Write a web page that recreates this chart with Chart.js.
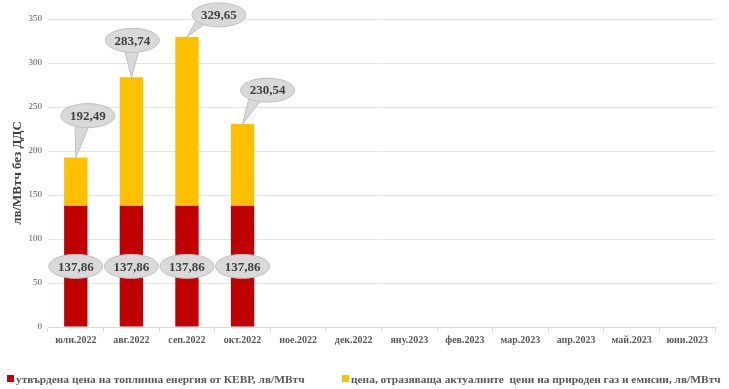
<!DOCTYPE html>
<html>
<head>
<meta charset="utf-8">
<script src="https://cdn.jsdelivr.net/npm/chart.js@4/dist/chart.umd.min.js"></script>
<style>
  html, body { margin: 0; padding: 0; background: #fff; }
  #wrap { width: 729px; height: 389px; }
</style>
</head>
<body>
<div id="wrap"><canvas id="chartCanvas" width="729" height="389"></canvas></div>
<script>
// Months on the x axis
const months = ["юли.2022", "авг.2022", "сеп.2022", "окт.2022", "ное.2022", "дек.2022",
    "яну.2023", "фев.2023", "мар.2023", "апр.2023", "май.2023", "юни.2023"];

// Approved heat price (red, bottom part)
const approvedPrice = [137.86, 137.86, 137.86, 137.86, null, null, null, null, null, null, null, null];
// Extra from actual gas and emission prices (yellow, top part)
const gasComponent = [54.63, 145.88, 191.79, 92.68, null, null, null, null, null, null, null, null];
// Totals shown in the callouts
const totalLabels = ["192,49", "283,74", "329,65", "230,54"];
const approvedLabels = ["137,86", "137,86", "137,86", "137,86"];

const seriesNames = [
    "утвърдена цена на топлинна енергия от КЕВР, лв/МВтч",
    "цена, отразяваща актуалните  цени на природен газ и емисии, лв/МВтч"
];

const FONT = "'Liberation Serif', 'Times New Roman', serif";

// callout offsets from the bar top (dx, dy) - the balloons sit up and to the right
const calloutOffset = [[12, -42], [1, -37], [32, -22], [25, -34]];
// legend item x positions
const legendX = [7, 342];

function ellipse(ctx, cx, cy, rx, ry) {
    ctx.beginPath();
    ctx.ellipse(cx, cy, rx, ry, 0, 0, Math.PI * 2);
    ctx.closePath();
}

// Draws the grey balloon labels
const balloonPlugin = {
    id: "balloons",
    afterDatasetsDraw(chart) {
        const ctx = chart.ctx;
        const redMeta = chart.getDatasetMeta(0);
        const yelMeta = chart.getDatasetMeta(1);
        const yScale = chart.scales.y;
        ctx.save();
        ctx.font = "bold 13px " + FONT;
        ctx.textAlign = "center";
        ctx.textBaseline = "middle";

        approvedLabels.forEach((txt, i) => {
            const bar = redMeta.data[i];
            const cy = yScale.getPixelForValue(approvedPrice[i] / 2);
            ellipse(ctx, bar.x, cy, 27, 12);
            ctx.fillStyle = "#d9d9d9";
            ctx.fill();
            ctx.strokeStyle = "#bfbfbf";
            ctx.lineWidth = 1;
            ctx.stroke();
            ctx.fillStyle = "#404040";
            ctx.fillText(txt, bar.x, cy + 1);
        });

        totalLabels.forEach((txt, i) => {
            const bar = yelMeta.data[i];
            const tx = bar.x;
            const ty = bar.y;
            const cx = tx + calloutOffset[i][0];
            const cy = ty + calloutOffset[i][1];
            // pointer
            const ang = Math.atan2(ty - cy, tx - cx);
            const spread = 0.35;
            ctx.beginPath();
            ctx.moveTo(cx + 27 * Math.cos(ang - spread) * 0.8, cy + 12 * Math.sin(ang - spread) * 0.8);
            ctx.lineTo(tx, ty);
            ctx.lineTo(cx + 27 * Math.cos(ang + spread) * 0.8, cy + 12 * Math.sin(ang + spread) * 0.8);
            ctx.closePath();
            ctx.fillStyle = "#d9d9d9";
            ctx.fill();
            ctx.strokeStyle = "#bfbfbf";
            ctx.stroke();
            ellipse(ctx, cx, cy, 27, 12);
            ctx.fill();
            ctx.stroke();
            // cover the seam between pointer and balloon
            ellipse(ctx, cx, cy, 26, 11);
            ctx.fill();
            ctx.fillStyle = "#404040";
            ctx.fillText(txt, cx, cy + 1);
        });
        ctx.restore();
    }
};

// Built-in legend wraps to two lines, so draw it by hand on one line
const bottomLegend = {
    id: "bottomLegend",
    afterDraw(chart) {
        const ctx = chart.ctx;
        const y = 379;
        ctx.save();
        ctx.font = "bold 11.4px " + FONT;
        ctx.textBaseline = "middle";
        ctx.textAlign = "left";
        chart.data.datasets.forEach((ds, i) => {
            const x = legendX[i];
            ctx.fillStyle = ds.backgroundColor;
            ctx.fillRect(x, y - 4, 7, 7);
            ctx.fillStyle = "#595959";
            ctx.fillText(ds.label, x + 9, y + 1);
        });
        ctx.restore();
    }
};

const ctx = document.getElementById("chartCanvas").getContext("2d");
const chart = new Chart(ctx, {
    type: "bar",
    data: {
        labels: months,
        datasets: [
            {
                label: seriesNames[0],
                data: approvedPrice,
                backgroundColor: "#c00000",
                borderWidth: 0,
                barPercentage: 0.42,
                categoryPercentage: 1,
            },
            {
                label: seriesNames[1],
                data: gasComponent,
                backgroundColor: "#ffc000",
                borderWidth: 0,
                barPercentage: 0.42,
                categoryPercentage: 1,
            },
        ],
    },
    options: {
        responsive: false,
        animation: false,
        layout: {
            padding: { left: 10, right: 14, top: 19, bottom: 41 },
        },
        plugins: {
            tooltip: { enabled: false },
            legend: { display: false },
        },
        scales: {
            x: {
                stacked: true,
                grid: {
                    display: true,
                    drawOnChartArea: false,
                    offset: true,
                    tickLength: 5,
                    color: "#d9d9d9",
                },
                border: { color: "#d9d9d9" },
                ticks: {
                    color: "#595959",
                    maxRotation: 0,
                    autoSkip: false,
                    padding: 2,
                    font: { family: FONT, size: 10, weight: "bold" },
                },
            },
            y: {
                stacked: true,
                min: 0,
                max: 350,
                afterFit: scale => { scale.width = 38; },
                ticks: {
                    stepSize: 50,
                    color: "#595959",
                    padding: 6,
                    font: { family: FONT, size: 9 },
                },
                grid: {
                    color: "#e3e3e3",
                    drawTicks: false,
                },
                border: { display: false },
                title: {
                    display: true,
                    text: "лв/МВтч без ДДС",
                    color: "#404040",
                    padding: 0,
                    font: { family: FONT, size: 13, weight: "bold" },
                },
            },
        },
    },
    plugins: [balloonPlugin, bottomLegend],
});
</script>
</body>
</html>
